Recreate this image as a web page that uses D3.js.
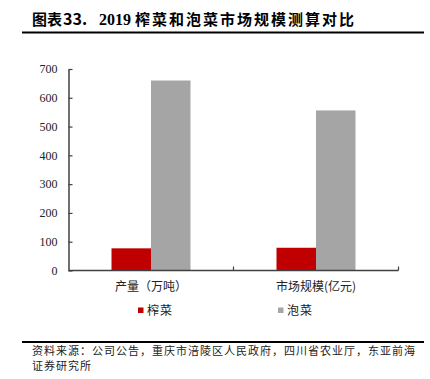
<!DOCTYPE html>
<html>
<head>
<meta charset="utf-8">
<script src="https://cdn.jsdelivr.net/npm/d3@7"></script>
<style>
  html, body { margin: 0; padding: 0; background: #fff; }
  svg { display: block; }
</style>
</head>
<body>
<div id="chart"></div>
<script>
// data
const categories = ['产量（万吨）', '市场规模(亿元)'];
const seriesNames = ['榨菜', '泡菜'];
const zhacaiValues = [77, 79];
const paocaiValues = [660, 556];
const yTicks = [0, 100, 200, 300, 400, 500, 600, 700];

const colors = { '榨菜': '#C00000', '泡菜': '#A5A5A5' };
const cjk = '"Noto Sans CJK SC", sans-serif';
const serif = '"Liberation Serif", "Times New Roman", serif';

const W = 430, H = 379;
const svg = d3.select('#chart').append('svg')
    .attr('width', W)
    .attr('height', H);

// title
const title = svg.append('text')
    .attr('y', 25)
    .attr('font-weight', 'bold')
    .attr('fill', '#000');
title.append('tspan').attr('x', 32).attr('font-family', cjk).attr('font-size', 15).text('图表');
title.append('tspan').attr('x', 63).attr('font-family', cjk).attr('font-size', 16).text('33.');
title.append('tspan').attr('x', 99).attr('font-family', serif).attr('font-size', 16).text('2019');
title.append('tspan').attr('x', 135).attr('font-family', cjk).attr('font-size', 15)
    .attr('letter-spacing', 2).text('榨菜和泡菜市场规模测算对比');

svg.append('line')
    .attr('x1', 22).attr('x2', 424)
    .attr('y1', 32.5).attr('y2', 32.5)
    .attr('stroke', '#000').attr('stroke-width', 2);

// scales
const x = d3.scaleBand()
    .domain(categories)
    .range([68.5, 398.5]);

const barW = 39.5;
const xSub = d3.scaleBand()
    .domain(seriesNames)
    .range([x.bandwidth() / 2 - barW, x.bandwidth() / 2 + barW]);

const y = d3.scaleLinear()
    .domain([0, 700])
    .range([270.5, 69]);

const rows = categories.map((c, i) => ({
    category: c,
    values: [
        { name: '榨菜', value: zhacaiValues[i] },
        { name: '泡菜', value: paocaiValues[i] }
    ]
}));

// bars
const groups = svg.selectAll('.group')
    .data(rows)
    .enter()
    .append('g')
    .attr('class', 'group')
    .attr('transform', d => `translate(${x(d.category)},0)`);

groups.selectAll('rect')
    .data(d => d.values)
    .enter()
    .append('rect')
    .attr('x', d => xSub(d.name))
    .attr('y', d => y(d.value))
    .attr('width', xSub.bandwidth())
    .attr('height', d => y(0) - y(d.value))
    .attr('fill', d => colors[d.name]);

// y axis
const yAxis = svg.append('g')
    .attr('transform', `translate(${x.range()[0]},0)`)
    .call(d3.axisLeft(y).tickValues(yTicks).tickSizeInner(-4).tickSizeOuter(0).tickPadding(11));

yAxis.select('.domain').attr('stroke', '#404040').attr('stroke-width', 1.5);
yAxis.selectAll('.tick line').attr('stroke', '#404040').attr('stroke-width', 1.2);
yAxis.selectAll('.tick text')
    .attr('font-family', serif)
    .attr('font-size', 12)
    .attr('fill', '#222');

// x axis: line, boundary ticks, centred labels
const xAxis = svg.append('g').attr('class', 'x-axis');
xAxis.append('line')
    .attr('x1', x.range()[0]).attr('x2', x.range()[1])
    .attr('y1', y(0)).attr('y2', y(0))
    .attr('stroke', '#404040').attr('stroke-width', 1.5);

const bounds = categories.map(c => x(c)).concat([x.range()[1]]).slice(1);
xAxis.selectAll('.xtick')
    .data(bounds)
    .enter()
    .append('line')
    .attr('x1', d => d).attr('x2', d => d)
    .attr('y1', y(0)).attr('y2', y(0) - 4)
    .attr('stroke', '#404040').attr('stroke-width', 1.2);

xAxis.selectAll('.xlabel')
    .data(categories)
    .enter()
    .append('text')
    .attr('x', d => x(d) + x.bandwidth() / 2)
    .attr('y', 290.5)
    .attr('text-anchor', 'middle')
    .attr('font-family', cjk)
    .attr('font-size', 12)
    .attr('fill', '#222')
    .text(d => d);

// legend
const legendX = [138, 278];
const legend = svg.selectAll('.legend')
    .data(seriesNames)
    .enter()
    .append('g')
    .attr('class', 'legend')
    .attr('transform', (d, i) => `translate(${legendX[i]},0)`);

legend.append('rect')
    .attr('x', 0).attr('y', 307.5)
    .attr('width', 5.5).attr('height', 5.5)
    .attr('fill', d => colors[d]);

legend.append('text')
    .attr('x', 9).attr('y', 314.5)
    .attr('font-family', cjk)
    .attr('font-size', 12)
    .attr('letter-spacing', 1)
    .attr('fill', '#222')
    .text(d => d);

// source note
svg.append('line')
    .attr('x1', 22).attr('x2', 424)
    .attr('y1', 342).attr('y2', 342)
    .attr('stroke', '#000').attr('stroke-width', 2);

const notes = ['资料来源：公司公告，重庆市涪陵区人民政府，四川省农业厅，东亚前海', '证券研究所'];
svg.selectAll('.note')
    .data(notes)
    .enter()
    .append('text')
    .attr('x', 32)
    .attr('y', (d, i) => 355 + i * 15)
    .attr('font-family', cjk)
    .attr('font-size', 11)
    .attr('letter-spacing', 1)
    .attr('fill', '#222')
    .text(d => d);
</script>
</body>
</html>
